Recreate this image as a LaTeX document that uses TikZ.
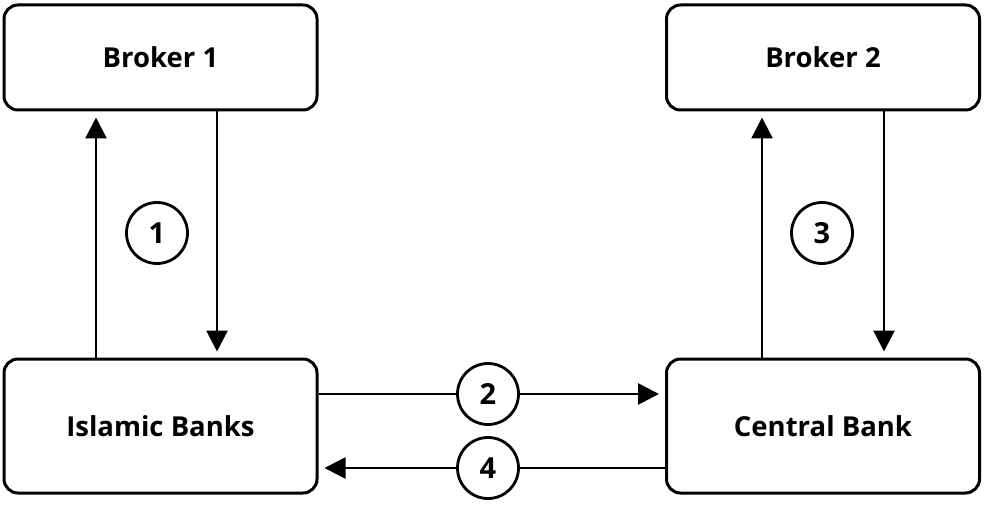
\documentclass[tikz,border=0pt]{standalone}
\usepackage{fontspec}
\setmainfont{Open Sans}
\usetikzlibrary{arrows.meta}
\begin{document}
\begin{tikzpicture}[x=1pt,y=1pt,
  box/.style={draw, line width=3pt, rounded corners=14pt, minimum width=313pt, inner sep=0pt, font=\fontsize{27.5}{30}\selectfont\bfseries},
  num/.style={draw, circle, line width=2.8pt, minimum size=61pt, inner sep=0pt, font=\fontsize{29}{32}\selectfont\bfseries},
  arr/.style={line width=2.8pt, shorten >=6pt, -{Triangle[length=21pt,width=21pt]}}]
\useasboundingbox (0,0) rectangle (984,504);
\node[box, minimum height=105pt] (b1) at (160.5,446.5) {Broker 1};
\node[box, minimum height=105pt] (b2) at (823,446.5) {Broker 2};
\node[box, minimum height=134pt] (ib) at (160.5,78) {Islamic Banks};
\node[box, minimum height=134pt] (cb) at (823,78) {Central Bank};
\node[num] (n1) at (157,271) {1};
\node[num] (n3) at (822,271) {3};
\node[num] (n2) at (488,110) {2};
\node[num] (n4) at (488,36) {4};
\draw[arr] (ib.north -| 96,0) -- (b1.south -| 96,0);
\draw[arr] (b1.south -| 217,0) -- (ib.north -| 217,0);
\draw[arr] (cb.north -| 762,0) -- (b2.south -| 762,0);
\draw[arr] (b2.south -| 884,0) -- (cb.north -| 884,0);
\draw[line width=2.8pt] (ib.east |- n2) -- (n2);
\draw[arr] (n2) -- (cb.west |- n2);
\draw[line width=2.8pt] (cb.west |- n4) -- (n4);
\draw[arr] (n4) -- (ib.east |- n4);
\end{tikzpicture}
\end{document}
